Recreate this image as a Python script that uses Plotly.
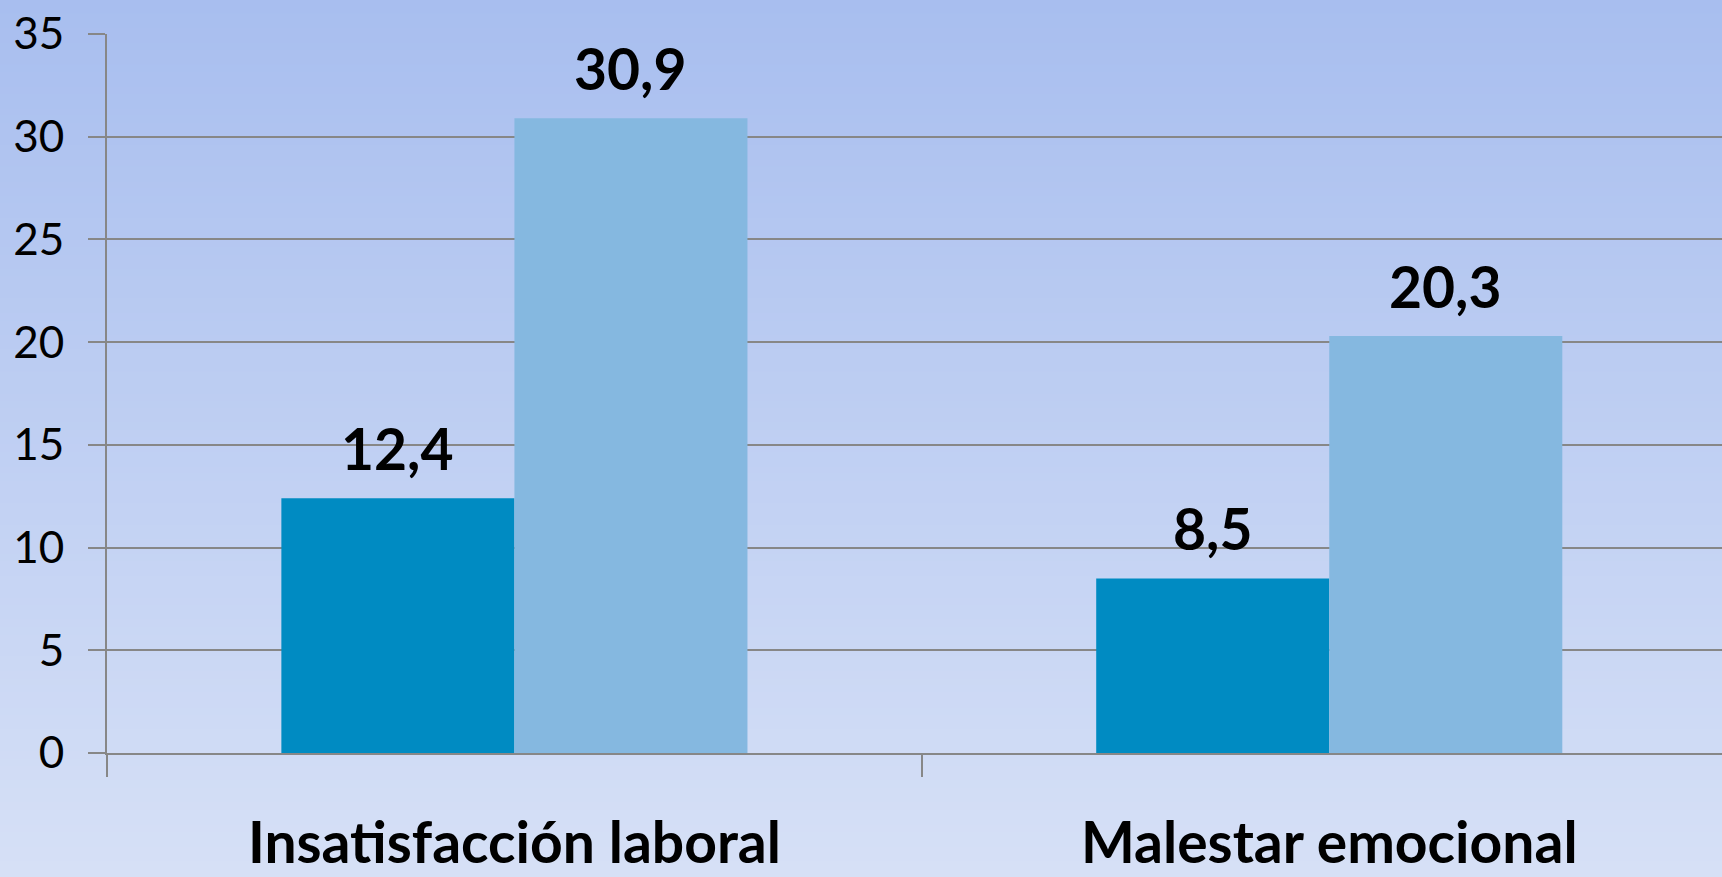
import plotly.graph_objects as go

# ─── Data ────────────────────────────────────────────────────────────────────
categories = ["Insatisfacción laboral", "Malestar emocional"]
serie_a = [12.4, 8.5]
serie_b = [30.9, 20.3]
labels_a = ["12,4", "8,5"]
labels_b = ["30,9", "20,3"]

# ─── Style ───────────────────────────────────────────────────────────────────
W, H = 1722, 877
MARGIN = dict(l=107, r=0, t=34, b=124)
X_RANGE = [-0.5, 1.482]
BARGAP = 0.428
DARK = "#008BC2"
LIGHT = "#85B8E0"
GRID = "#878787"
BG_TOP = (168, 190, 239)
BG_BOTTOM = (214, 224, 246)
FONT = "Lato, Open Sans, sans-serif"

fig = go.Figure()
fig.add_trace(go.Bar(x=categories, y=serie_a, marker_color=DARK, marker_line_width=0))
fig.add_trace(go.Bar(x=categories, y=serie_b, marker_color=LIGHT, marker_line_width=0))

# value labels above each bar
cat_px = (W - MARGIN["l"] - MARGIN["r"]) / (X_RANGE[1] - X_RANGE[0])
half_bar = cat_px * (1 - BARGAP) / 4
for vals, labs, sign in [(serie_a, labels_a, -1), (serie_b, labels_b, 1)]:
    for cat, v, lab in zip(categories, vals, labs):
        fig.add_annotation(
            x=cat, y=v, text=f"<b>{lab}</b>", showarrow=False,
            xref="x", yref="y", xanchor="center", yanchor="bottom",
            xshift=sign * half_bar, yshift=14,
            font=dict(family=FONT, size=57, color="#000000"),
        )

# vertical gradient background
plot_h = H - MARGIN["t"] - MARGIN["b"]
n = 120
shapes = []
for i in range(n):
    t = i / (n - 1)
    c = tuple(round(BG_TOP[k] + (BG_BOTTOM[k] - BG_TOP[k]) * t) for k in range(3))
    top = 1 + MARGIN["t"] / plot_h
    shapes.append(dict(
        type="rect", xref="paper", yref="paper", layer="below",
        x0=-0.1, x1=1.1,
        y0=top - (i + 1) / n * H / plot_h,
        y1=top - i / n * H / plot_h + 0.002,
        fillcolor="rgb(%d,%d,%d)" % c, line_width=0,
    ))

fig.update_layout(
    width=W, height=H, margin=MARGIN,
    barmode="group", bargap=BARGAP, bargroupgap=0,
    showlegend=False,
    paper_bgcolor="rgb(214,224,246)", plot_bgcolor="rgba(0,0,0,0)",
    font=dict(family=FONT, color="#000000"),
    shapes=shapes,
)
fig.update_xaxes(
    range=X_RANGE, showline=True, linecolor=GRID, linewidth=2,
    ticks="outside", tickson="boundaries", ticklen=22, tickcolor=GRID, tickwidth=2,
    showgrid=False, zeroline=False, automargin=False,
    tickfont=dict(family=FONT, size=57, color="#000000", weight="bold"),
    ticklabelstandoff=40,
)
fig.update_yaxes(
    range=[0, 35], dtick=5, showline=True, linecolor=GRID, linewidth=2,
    ticks="outside", ticklen=17, tickcolor=GRID, tickwidth=2,
    showgrid=True, gridcolor=GRID, gridwidth=2, zeroline=False, automargin=False,
    tickfont=dict(family=FONT, size=44, color="#000000"),
    ticklabelstandoff=15,
)

fig.write_html(
    "out.html",
    config={"displayModeBar": False},
    post_script="document.body.style.margin='0';document.body.style.overflow='hidden';",
)
